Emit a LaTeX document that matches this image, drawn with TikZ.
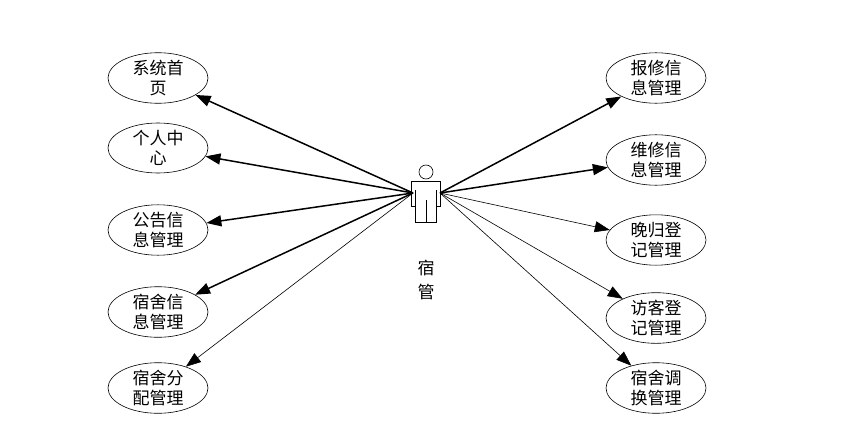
\documentclass[tikz,border=0pt]{standalone}
\usepackage{fontspec}
\newfontfamily\cjk{Noto Sans CJK SC}
\usetikzlibrary{arrows.meta,shapes.geometric}
\begin{document}
\begin{tikzpicture}[x=1pt,y=-1pt,
 uc/.style={draw,line width=0.6pt,ellipse,minimum width=100pt,minimum height=50pt,inner sep=0pt,align=center,font=\cjk\fontsize{17}{20}\selectfont},
 bold/.style={line width=1.5pt,-{Triangle[length=15pt,width=11pt]}},
 fine/.style={line width=0.6pt,-{Triangle[length=15pt,width=11pt]}}]
\useasboundingbox (0,0) rectangle (849,439);
\node[uc] (l1) at (158,78) {系统首\\页};
\node[uc] (l2) at (158,148) {个人中\\心};
\node[uc] (l3) at (158,230) {公告信\\息管理};
\node[uc] (l4) at (158,312) {宿舍信\\息管理};
\node[uc] (l5) at (158,388) {宿舍分\\配管理};
\node[uc] (r1) at (656,78) {报修信\\息管理};
\node[uc] (r2) at (656,160) {维修信\\息管理};
\node[uc] (r3) at (656,240) {晚归登\\记管理};
\node[uc] (r4) at (656,318) {访客登\\记管理};
\node[uc] (r5) at (656,388) {宿舍调\\换管理};
% actor
\draw[line width=0.6pt] (426,172) circle (7);
\draw[line width=0.6pt,fill=white] (411,181) -- (440,181) -- (440,206) -- (436,206) -- (436,222) -- (415,222) -- (415,206) -- (411,206) -- cycle;
\draw[line width=0.6pt] (415,190) -- (415,206) (436,190) -- (436,206) (426,200) -- (426,222);
\coordinate (aL) at (413,193);
\coordinate (aR) at (440,193);
\node[font=\cjk\fontsize{17}{24}\selectfont,align=center] (lab) at (426,280) {宿\\管};
\draw[bold] (aL) -- (l1);
\draw[bold] (aL) -- (l2);
\draw[bold] (aL) -- (l3);
\draw[bold] (aL) -- (l4);
\draw[fine] (aL) -- (l5);
\draw[bold] (aR) -- (r1);
\draw[bold] (aR) -- (r2);
\draw[fine] (aR) -- (r3);
\draw[fine] (aR) -- (r4);
\draw[fine] (aR) -- (r5);
\end{tikzpicture}
\end{document}
